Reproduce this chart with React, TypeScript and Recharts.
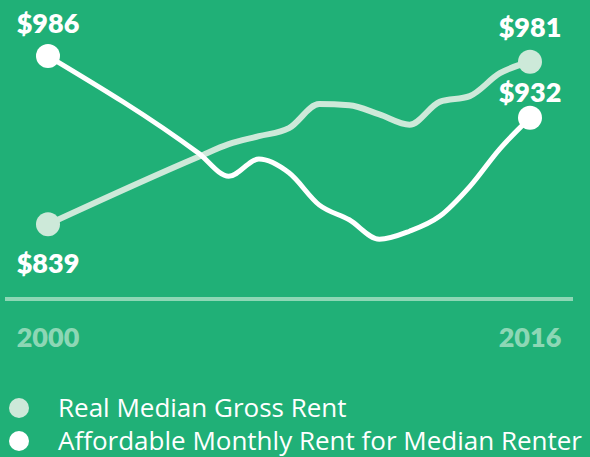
import React from "react";
import { LineChart, Line, XAxis, YAxis, Legend } from "recharts";

const years = [2000, 2005, 2006, 2007, 2008, 2009, 2010, 2011, 2012, 2013, 2014, 2015, 2016];
const realMedianGrossRent = [839, 898, 909, 916, 923, 944, 943, 935, 926, 946, 951, 971, 981];
const affordableRent = [986, 901, 881, 896, 884, 856, 843, 826, 833, 846, 872, 905, 932];
const xTicks = [2000, 2016];
const seriesNames = ["Real Median Gross Rent", "Affordable Monthly Rent for Median Renter"];

const data = years.map((y, i) => ({
  year: y,
  real: realMedianGrossRent[i],
  afford: affordableRent[i],
}));

const BG = "#20B077";
const LIGHT = "#CDE9D9";
const WHITE = "#FFFFFF";
const AXIS = "#8DD7B5";
const NUM_FONT = "Lato, 'Open Sans', sans-serif";

const makeEndDot = (color: string, offsets: [number, number]) => (props: any) => {
  const { cx, cy, index, value } = props;
  const last = data.length - 1;
  if (index !== 0 && index !== last) return <g key={`d${index}`} />;
  const dy = index === 0 ? offsets[0] : offsets[1];
  return (
    <g key={`d${index}`}>
      <circle cx={cx} cy={cy} r={12} fill={color} />
      <text
        x={cx}
        y={cy + dy}
        textAnchor="middle"
        fill="#FFFFFF"
        fontFamily={NUM_FONT}
        fontWeight={800}
        fontSize={27}
      >
        {`$${value}`}
      </text>
    </g>
  );
};

const YearTick = (props: any) => {
  const { x, y, payload } = props;
  return (
    <text
      x={x}
      y={y + 40}
      textAnchor="middle"
      fill={AXIS}
      fontFamily={NUM_FONT}
      fontWeight={800}
      fontSize={27}
    >
      {payload.value}
    </text>
  );
};

const LegendContent = () => {
  const colors = [LIGHT, WHITE];
  return (
    <div style={{ fontFamily: "'Open Sans', sans-serif" }}>
      {seriesNames.map((n, i) => (
        <div key={n} style={{ display: "flex", alignItems: "center", height: 33 }}>
          <div
            style={{
              width: 20,
              height: 20,
              borderRadius: 10,
              background: colors[i],
              marginLeft: 9,
              marginRight: 29,
            }}
          />
          <span style={{ color: "#FFFFFF", fontSize: 26, lineHeight: "33px", whiteSpace: "nowrap" }}>{n}</span>
        </div>
      ))}
    </div>
  );
};

export default function App() {
  return (
    <div
      style={{
        position: "absolute",
        left: 0,
        top: 0,
        width: 590,
        height: 457,
        background: BG,
        overflow: "hidden",
      }}
    >
      <LineChart
        width={590}
        height={457}
        data={data}
        margin={{ top: 40, right: 17, bottom: 108, left: 5 }}
      >
        <XAxis
          dataKey="year"
          type="number"
          domain={[2000, 2016]}
          ticks={xTicks}
          padding={{ left: 43, right: 43 }}
          axisLine={{ stroke: AXIS, strokeWidth: 4 }}
          tickLine={false}
          tick={<YearTick />}
          height={50}
          interval={0}
        />
        <YAxis hide domain={[800, 1000]} padding={{ top: 0, bottom: 30 }} />
        <Legend
          layout="horizontal"
          verticalAlign="middle"
          align="center"
          wrapperStyle={{ top: 391, left: 0, width: 590 }}
          content={<LegendContent />}
        />
        <Line
          dataKey="real"
          name={seriesNames[0]}
          type="monotone"
          stroke={LIGHT}
          strokeWidth={6}
          dot={makeEndDot(LIGHT, [49, -25])}
          activeDot={false}
          isAnimationActive={false}
        />
        <Line
          dataKey="afford"
          name={seriesNames[1]}
          type="monotone"
          stroke={WHITE}
          strokeWidth={5}
          dot={makeEndDot(WHITE, [-23, -16])}
          activeDot={false}
          isAnimationActive={false}
        />
      </LineChart>
    </div>
  );
}
